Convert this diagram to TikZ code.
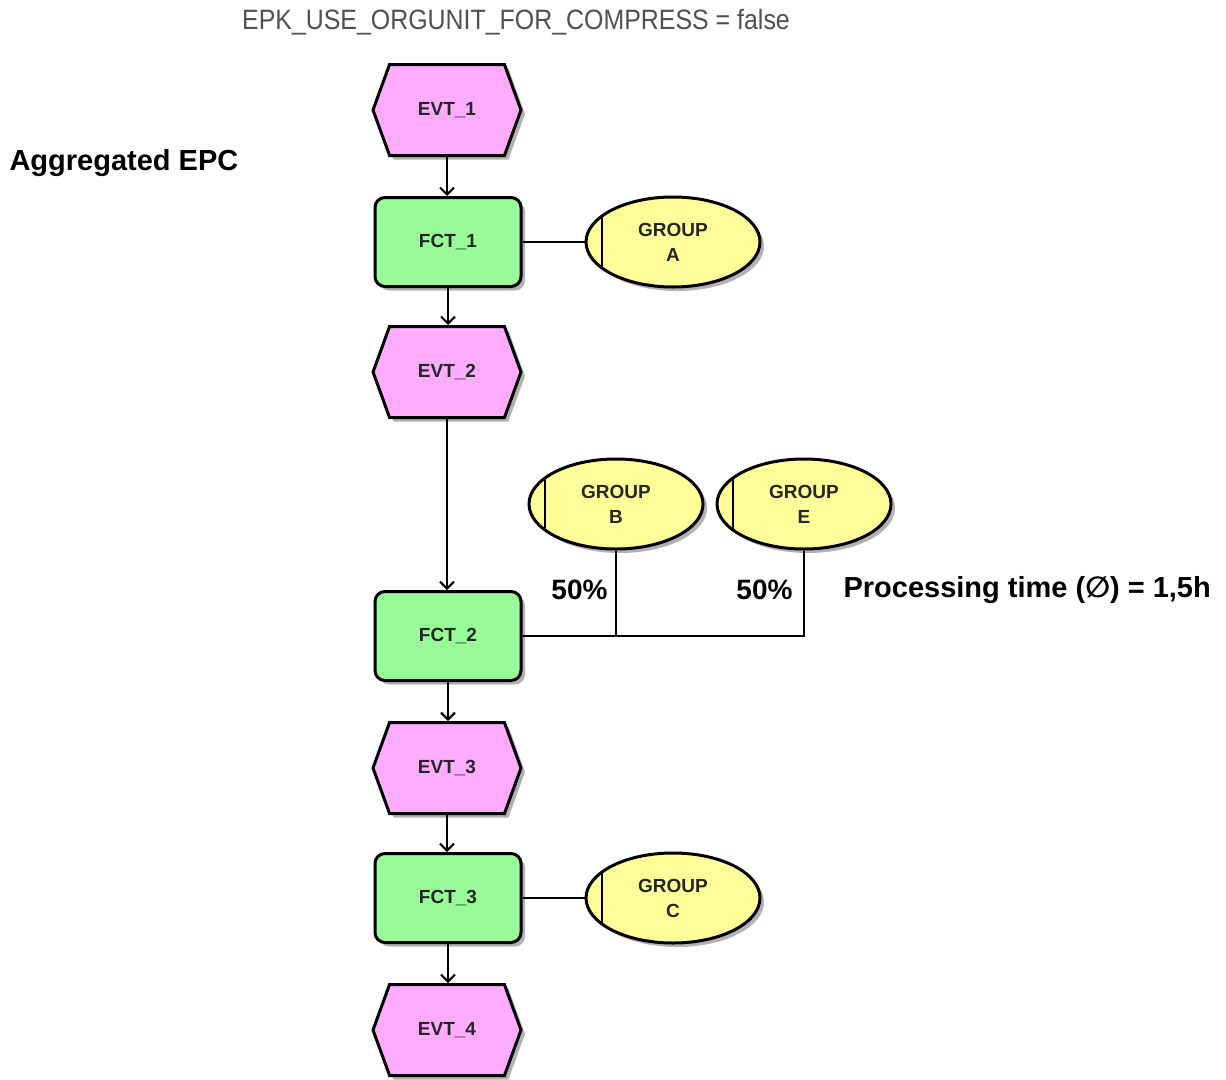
\documentclass[tikz,border=0pt]{standalone}
\usepackage{fontspec}
\setmainfont{Liberation Sans}
\newfontfamily\djv{DejaVu Sans}
\usetikzlibrary{shapes.symbols,shapes.geometric,arrows.meta,shadows}
\definecolor{evtpink}{RGB}{255,172,255}
\definecolor{fctgreen}{RGB}{152,251,152}
\definecolor{orgyellow}{RGB}{255,255,153}
\definecolor{titlegray}{RGB}{80,80,80}
\begin{document}
\begin{tikzpicture}[x=1pt,y=-1pt,
  shad/.style={drop shadow={shadow xshift=4pt,shadow yshift=-4pt,fill=black,opacity=0.3}},
  nodefont/.style={font=\bfseries\fontsize{19}{25}\selectfont, text=black!85},
  evt/.style={signal, signal to=east and west, signal pointer angle=140,
    minimum width=148pt, minimum height=91pt, inner sep=0pt,
    draw=black, line width=3pt, fill=evtpink, shad, nodefont},
  fct/.style={rectangle, rounded corners=10pt, minimum width=146pt, minimum height=89pt,
    inner sep=0pt, draw=black, line width=3pt, fill=fctgreen, shad, nodefont},
  org/.style={ellipse, minimum width=174pt, minimum height=90pt, inner sep=0pt,
    draw=black, line width=3pt, fill=orgyellow, shad, nodefont, align=center,
    path picture={\draw[line width=2.5pt]
      ([xshift=16pt]path picture bounding box.south west) --
      ([xshift=16pt]path picture bounding box.north west);}},
  flow/.style={line width=2.2pt, -{Straight Barb[length=7pt,width=14pt,line width=2pt]}},
  link/.style={line width=2.6pt},
  lbl/.style={font=\bfseries\fontsize{29}{31}\selectfont, text=black}
]
\useasboundingbox (0,0) rectangle (1226,1079);

\node[font=\fontsize{28}{30}\selectfont, text=titlegray] (title) at (516,22)
  {\scalebox{0.89}[1]{EPK\_USE\_ORGUNIT\_FOR\_COMPRESS = false}};
\node[lbl, anchor=west] (agg) at (6,163) {Aggregated EPC};

\node[evt] (e1) at (447,110) {EVT\_1};
\node[fct] (f1) at (448,242) {FCT\_1};
\node[org] (gA) at (673,242) {GROUP\\A};
\node[evt] (e2) at (447,372) {EVT\_2};
\node[org] (gB) at (616,504) {GROUP\\B};
\node[org] (gE) at (804,504) {GROUP\\E};
\node[fct] (f2) at (448,636) {FCT\_2};
\node[evt] (e3) at (447,768) {EVT\_3};
\node[fct] (f3) at (448,898) {FCT\_3};
\node[org] (gC) at (673,898) {GROUP\\C};
\node[evt] (e4) at (447,1030) {EVT\_4};

\node[lbl, anchor=east, font=\bfseries\fontsize{28}{30}\selectfont] (pB) at (611,590) {50\%};
\node[lbl, anchor=east, font=\bfseries\fontsize{28}{30}\selectfont] (pE) at (796,590) {50\%};
\node[lbl, anchor=west] (pt) at (840,590) {Processing time ({\djv\bfseries ∅}) = 1,5h};

\draw[flow] (e1.south) -- (e1.south |- f1.north);
\draw[flow] (f1.south) -- (f1.south |- e2.north);
\draw[flow] (e2.south) -- (e2.south |- f2.north);
\draw[flow] (f2.south) -- (f2.south |- e3.north);
\draw[flow] (e3.south) -- (e3.south |- f3.north);
\draw[flow] (f3.south) -- (f3.south |- e4.north);

\draw[link] (f1.east) -- (gA.west);
\draw[link] (f3.east) -- (gC.west);
\coordinate (cB) at (gB.south |- f2.east);
\coordinate (cE) at (gE.south |- f2.east);
\draw[link] (f2.east) -- (cE) -- (gE.south);
\draw[link] (cB) -- (gB.south);
\end{tikzpicture}
\end{document}
